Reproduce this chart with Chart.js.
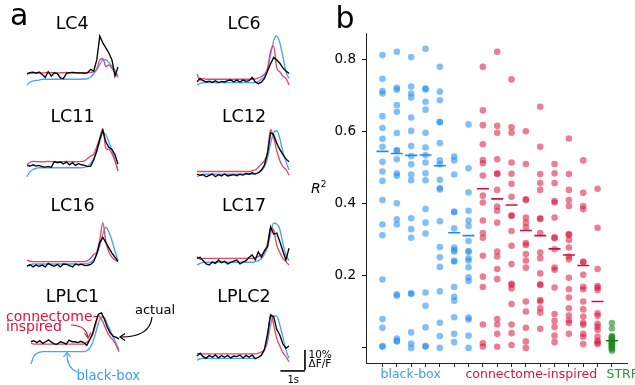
<!DOCTYPE html>
<html><head><meta charset="utf-8">
<script src="https://cdn.jsdelivr.net/npm/chart.js@4.4.1/dist/chart.umd.min.js"></script>
<style>
body{margin:0;width:635px;height:385px;background:#fff;position:relative;overflow:hidden;font-family:"DejaVu Sans",sans-serif;color:#000}
.t{position:absolute;line-height:1;white-space:nowrap}
.ttl{position:absolute;line-height:1;white-space:nowrap;width:100px;text-align:center;font-size:17.5px}
canvas{position:absolute}
svg{position:absolute;left:0;top:0}
</style></head><body>
<script>
// ---------- Panel a: mean responses (ΔF/F, %) sampled every 0.125 s ----------
const timeS=[0,0.125,0.25,0.375,0.5,0.625,0.75,0.875,1,1.125,1.25,1.375,1.5,1.625,1.75,1.875,2,2.125,2.25,2.375,2.5,2.625,2.75,2.875,3,3.125,3.25,3.375,3.5,3.625,3.75];

const lc4Actual=[8.1,8.7,8.9,8.4,9.0,7.9,6.5,9.2,7.1,8.7,8.3,6.2,5.9,8.4,8.7,8.9,8.7,8.6,8.6,8.4,8.7,10.3,9.5,14.8,26.2,22.9,20.5,18.1,14.8,7.1,11.4];
const lc4Connectome=[8.2,8.7,8.8,8.7,8.7,8.6,8.7,8.8,8.7,8.7,8.6,8.7,8.7,8.8,8.7,8.7,8.6,8.7,8.7,8.7,8.8,8.9,9.2,10.5,14.8,15.5,11.6,12.4,10.8,8.8,6.5];
const lc4BlackBox=[2.9,4.3,4.8,5.0,5.2,5.6,5.6,5.6,5.6,5.6,5.6,5.6,5.6,5.6,5.6,5.6,5.6,5.6,5.6,5.7,5.9,6.7,8.2,10.2,12.6,14.8,14.9,13.5,11.8,9.8,7.4];

const lc6Actual=[4.4,6.0,4.9,4.3,4.7,4.1,4.9,4.0,4.6,4.3,4.9,5.2,4.4,5.2,4.3,5.2,4.6,4.9,6.5,4.3,3.5,4.2,6.0,9.5,13.0,16.0,14.8,13.2,11.0,9.5,8.4];
const lc6Connectome=[8.1,5.2,5.9,5.6,5.6,5.6,5.6,5.6,5.6,5.6,5.6,5.6,5.6,5.6,5.6,5.6,5.6,5.6,5.6,5.7,6.2,6.8,8.1,10.8,19.0,21.5,11.0,9.2,7.1,6.0,2.9];
const lc6BlackBox=[2.9,3.6,4.0,4.0,4.0,4.0,4.0,4.0,4.0,4.0,4.0,4.0,4.0,4.0,4.0,4.0,4.0,4.0,4.0,4.1,4.6,5.6,6.8,10.0,17.2,24.0,26.2,23.0,16.5,9.2,6.0];

const lc11Actual=[7.8,7.6,8.2,7.6,7.9,7.3,7.1,7.4,7.0,9.7,9.2,9.5,8.6,9.5,8.2,9.2,7.9,8.7,8.2,7.9,7.3,7.6,10.5,14.9,20.5,24.5,19.0,16.5,15.5,13.0,8.5];
const lc11Connectome=[8.1,9.4,9.8,9.7,9.7,9.6,9.7,9.8,9.7,9.7,9.6,9.7,9.7,9.8,9.7,9.7,9.6,9.7,9.8,10.1,11.2,12.3,13.3,16.8,21.0,25.5,16.0,15.5,13.5,10.0,5.2];
const lc11BlackBox=[2.5,4.9,6.0,6.5,6.8,6.8,6.8,6.8,6.8,6.8,6.8,6.8,6.8,6.8,6.8,6.8,6.8,6.8,6.8,7.0,7.6,8.9,11.3,14.4,19.2,23.5,22.5,19.0,15.0,10.5,5.5];

const lc12Actual=[3.8,3.2,3.5,2.5,3.2,3.8,2.5,3.5,2.9,3.8,2.9,3.2,3.5,3.0,3.7,3.3,4.1,3.7,4.4,3.8,4.4,5.7,8.1,13.7,23.5,22.5,18.5,15.5,13.0,11.0,9.7];
const lc12Connectome=[5.0,5.0,5.0,5.0,5.0,5.0,5.0,5.0,5.0,5.0,5.0,5.0,5.0,5.0,5.0,5.0,5.0,5.0,5.4,5.7,7.0,8.6,10.2,14.4,25.0,21.0,15.0,10.2,7.3,6.0,3.3];
const lc12BlackBox=[2.5,3.2,3.7,3.7,3.7,3.7,3.7,3.7,3.7,3.7,3.7,3.7,3.7,3.7,3.7,3.7,3.7,3.7,3.7,4.0,4.4,5.4,7.3,11.3,18.4,23.5,24.4,20.8,14.4,9.7,5.7];

const lc16Actual=[3.3,3.9,2.9,3.8,3.2,3.8,2.9,4.6,3.8,3.2,4.1,2.9,4.3,4.1,3.5,2.9,4.3,3.8,4.2,3.5,3.7,4.1,5.5,9.0,14.5,17.0,14.5,12.0,9.5,7.5,5.5];
const lc16Connectome=[6.2,5.6,5.4,5.4,5.4,5.4,5.4,5.4,5.4,5.4,5.4,5.4,5.4,5.4,5.4,5.4,5.4,5.4,5.4,5.4,5.9,7.0,8.8,10.0,16.0,24.0,15.0,10.0,7.5,6.2,5.4];
const lc16BlackBox=[3.3,4.0,4.3,4.3,4.3,4.3,4.3,4.3,4.3,4.3,4.3,4.3,4.3,4.3,4.3,4.3,4.3,4.3,4.3,4.4,4.6,5.2,6.2,9.0,13.0,18.5,21.8,19.5,15.5,10.5,6.0];

const lc17Actual=[7.0,7.5,5.9,4.3,3.8,5.2,4.6,6.2,4.9,5.6,4.3,5.1,5.6,6.2,4.3,5.2,5.9,7.5,8.6,6.2,10.1,7.5,10.7,12.5,22.0,18.5,19.0,15.0,10.5,6.2,11.8];
const lc17Connectome=[7.9,6.5,7.0,7.0,7.0,7.0,7.0,7.0,7.0,7.0,7.0,7.0,7.0,7.0,7.0,7.0,7.0,7.0,7.0,7.3,7.9,8.7,10.2,14.1,21.7,20.5,13.3,9.8,7.0,5.4,3.8];
const lc17BlackBox=[3.8,4.6,5.1,5.1,5.1,5.1,5.1,5.1,5.1,5.1,5.1,5.1,5.1,5.1,5.1,5.1,5.1,5.1,5.1,5.4,5.9,6.8,9.0,12.5,18.6,23.7,23.3,20.8,14.1,8.7,5.9];

const lplc1Actual=[10.6,11.1,10.2,11.1,9.8,10.6,11.5,10.4,9.5,9.5,10.6,10.2,9.5,11.4,10.6,10.6,10.2,10.8,10.2,8.9,11.4,14.5,19.7,23.7,24.3,21.4,17.6,14.8,13.3,12.7,12.0];
const lplc1Connectome=[9.8,9.5,9.5,9.5,9.5,9.5,9.5,9.5,9.5,9.5,9.5,9.5,9.5,9.5,9.5,9.5,9.5,9.5,9.5,10.4,11.7,14.1,18.4,23.0,21.4,18.4,15.2,12.9,11.4,9.0,5.9];
const lplc1BlackBox=[0.0,3.8,5.1,5.6,5.9,5.9,5.9,5.9,5.9,5.9,5.9,5.9,5.9,5.9,5.9,5.9,5.9,5.9,5.9,6.3,7.5,10.2,14.6,19.4,22.4,22.1,19.0,16.0,12.9,9.8,6.9];

const lplc2Actual=[3.8,5.1,3.5,2.7,4.1,3.2,4.3,2.9,4.0,3.2,4.1,2.9,3.8,3.5,4.3,2.9,4.1,3.2,4.3,2.5,3.2,4.1,7.0,14.3,23.3,22.5,16.5,13.8,9.5,7.5,8.6];
const lplc2Connectome=[5.1,4.8,4.8,4.8,4.8,4.8,4.8,4.8,4.8,4.8,4.8,4.8,4.8,4.8,4.8,4.8,4.8,4.8,4.8,4.8,5.1,5.7,7.0,12.2,23.8,18.6,12.2,8.6,5.4,3.5,1.1];
const lplc2BlackBox=[1.9,2.5,2.7,2.7,2.7,2.7,2.7,2.7,2.7,2.7,2.7,2.7,2.7,2.7,2.7,2.7,2.7,2.7,2.7,2.7,3.2,4.3,6.7,10.6,18.6,22.9,22.9,18.6,13.0,6.7,2.7];

const scaleBarPercent=10, scaleBarSeconds=1;

// ---------- Panel b: R^2 per model / cell type ----------
const blackBoxR2=[
 [0.814,0.748,0.714,0.707,0.644,0.611,0.581,0.559,0.517,0.49,0.464,0.411,0.343,0.313,0.19,0.08,0.056,0.005,0.003],
 [0.823,0.723,0.717,0.675,0.656,0.597,0.55,0.547,0.524,0.485,0.478,0.402,0.357,0.343,0.149,0.145,0.026,0.019,0.018],
 [0.808,0.726,0.707,0.696,0.64,0.603,0.561,0.533,0.51,0.482,0.466,0.36,0.33,0.306,0.152,0.15,0.043,0.012,0.0],
 [0.831,0.721,0.718,0.684,0.662,0.598,0.557,0.535,0.515,0.485,0.466,0.386,0.348,0.318,0.154,0.117,0.057,0.005,0.004],
 [0.781,0.712,0.688,0.628,0.627,0.569,0.521,0.51,0.467,0.444,0.44,0.352,0.28,0.252,0.225,0.157,0.07,0.033,0.0],
 [0.532,0.521,0.482,0.379,0.377,0.332,0.279,0.272,0.268,0.242,0.24,0.169,0.142,0.131,0.085,0.039,0.016],
 [0.621,0.499,0.432,0.381,0.354,0.339,0.297,0.269,0.267,0.249,0.243,0.224,0.196,0.186,0.084,0.079,0.034,0.0]
];
const connectomeR2=[
 [0.781,0.66,0.619,0.566,0.522,0.513,0.479,0.423,0.404,0.354,0.319,0.306,0.256,0.198,0.169,0.065,0.013,0.004],
 [0.823,0.617,0.598,0.524,0.485,0.483,0.439,0.393,0.381,0.348,0.268,0.254,0.219,0.191,0.08,0.065,0.039,0.003],
 [0.746,0.613,0.598,0.515,0.484,0.456,0.42,0.368,0.367,0.325,0.284,0.233,0.178,0.175,0.165,0.122,0.065,0.041,0.008],
 [0.602,0.511,0.413,0.411,0.362,0.348,0.335,0.291,0.286,0.261,0.243,0.223,0.129,0.101,0.056,0.018,0.0],
 [0.67,0.559,0.483,0.458,0.439,0.36,0.358,0.319,0.265,0.249,0.207,0.177,0.175,0.133,0.129,0.11,0.098,0.053],
 [0.511,0.485,0.458,0.408,0.404,0.362,0.307,0.305,0.274,0.223,0.217,0.168,0.094,0.075,0.058,0.034,0.016],
 [0.582,0.483,0.439,0.411,0.394,0.316,0.314,0.3,0.279,0.254,0.246,0.195,0.163,0.14,0.11,0.09,0.076,0.069,0.039],
 [0.521,0.431,0.394,0.385,0.24,0.237,0.203,0.17,0.163,0.129,0.107,0.087,0.07,0.064,0.039,0.031,0.011],
 [0.442,0.334,0.219,0.172,0.167,0.161,0.096,0.089,0.067,0.059,0.05,0.031,0.02,0.015,0.011]
];
const strfR2=[0.069,0.054,0.033,0.03,0.028,0.025,0.022,0.02,0.018,0.015,0.012,0.01,0.008,0.005,0.002,0.0,-0.003,-0.008];
const blackBoxSummary=[0.546,0.54,0.535,0.536,0.506,0.32,0.312];
const connectomeSummary=[0.442,0.414,0.397,0.326,0.312,0.275,0.258,0.229,0.129];
const strfSummary=[0.02];
const yTickValues=[0,0.2,0.4,0.6,0.8];
const groupLabels=['black-box','connectome-inspired','STRF'];

// ---------- page helpers ----------
const BLUE='#3d9cf5', RED='#dc143c', GREEN='#2a962a';
function text(str, left, top, size, extra){
  const d=document.createElement('div'); d.className='t'; d.textContent=str;
  d.style.left=left+'px'; d.style.top=top+'px'; d.style.fontSize=size+'px';
  if(extra) Object.assign(d.style, extra);
  document.body.appendChild(d); return d;
}
function title(str, cx, top){
  const d=document.createElement('div'); d.className='ttl'; d.textContent=str;
  d.style.left=(cx-50)+'px'; d.style.top=top+'px'; document.body.appendChild(d);
}
function makeCanvas(left, top, w, h){
  const c=document.createElement('canvas'); c.width=w; c.height=h;
  c.style.left=left+'px'; c.style.top=top+'px'; c.style.width=w+'px'; c.style.height=h+'px';
  document.body.appendChild(c); return c.getContext('2d');
}
Chart.defaults.font.family='"DejaVu Sans", sans-serif';
Chart.defaults.animation=false;

// ---------- panel a subplots ----------
const panels=[
 {name:'LC4',  a:lc4Actual,  c:lc4Connectome,  b:lc4BlackBox,  left:27,  top:31,  w:91, cx:72.2, tt:14.7},
 {name:'LC6',  a:lc6Actual,  c:lc6Connectome,  b:lc6BlackBox,  left:197, top:31,  w:92, cx:244,  tt:14.7},
 {name:'LC11', a:lc11Actual, c:lc11Connectome, b:lc11BlackBox, left:27,  top:122, w:91, cx:72.5, tt:108},
 {name:'LC12', a:lc12Actual, c:lc12Connectome, b:lc12BlackBox, left:197, top:122, w:92, cx:244,  tt:108},
 {name:'LC16', a:lc16Actual, c:lc16Connectome, b:lc16BlackBox, left:27,  top:213, w:91, cx:72.5, tt:197},
 {name:'LC17', a:lc17Actual, c:lc17Connectome, b:lc17BlackBox, left:197, top:213, w:92, cx:244,  tt:197},
 {name:'LPLC1',a:lplc1Actual,c:lplc1Connectome,b:lplc1BlackBox,left:31,  top:304, w:88, cx:72.5, tt:288},
 {name:'LPLC2',a:lplc2Actual,c:lplc2Connectome,b:lplc2BlackBox,left:197, top:304, w:92, cx:244,  tt:288, bar:true}
];
const AREA_H=60, PX_PER_PCT=2.1;
const scaleBarPlugin={id:'scalebar',afterDraw(chart){
  const o=chart.options.plugins.scalebar; if(!o||!o.on) return;
  const {x,y}=chart.scales, ctx=chart.ctx;
  const xr=x.getPixelForValue(o.t), xl=x.getPixelForValue(o.t-scaleBarSeconds);
  const yb=y.getPixelForValue(o.v), yt=y.getPixelForValue(o.v+scaleBarPercent);
  ctx.save(); ctx.strokeStyle='#000'; ctx.lineWidth=1.6; ctx.lineCap='butt';
  ctx.beginPath(); ctx.moveTo(xr,yt); ctx.lineTo(xr,yb-1); ctx.stroke();
  ctx.beginPath(); ctx.moveTo(xl,yb); ctx.lineTo(xr,yb); ctx.stroke();
  ctx.restore();
}};
const toXY=arr=>arr.map((v,i)=>({x:timeS[i],y:v}));
panels.forEach(p=>{
  const pad={left:4,top:4,right:p.bar?24:4,bottom:p.bar?12:4};
  const W=p.w+pad.left+pad.right, H=AREA_H+pad.top+pad.bottom;
  const ctx=makeCanvas(p.left-pad.left, p.top-pad.top, W, H);
  new Chart(ctx,{type:'line',
    data:{datasets:[
      {data:toXY(p.a),borderColor:'#000',borderWidth:1.35,pointRadius:0,tension:0,clip:false},
      {data:toXY(p.c),borderColor:'#e04a68',borderWidth:1.35,pointRadius:0,cubicInterpolationMode:'monotone',clip:false},
      {data:toXY(p.b),borderColor:'#4aa3ff',borderWidth:1.35,pointRadius:0,cubicInterpolationMode:'monotone',clip:false}
    ]},
    options:{responsive:false,events:[],layout:{padding:pad},
      plugins:{legend:{display:false},tooltip:{enabled:false},scalebar:{on:!!p.bar,t:4.4,v:-3.3}},
      scales:{x:{type:'linear',display:false,min:0,max:3.75},
              y:{type:'linear',display:false,min:0,max:AREA_H/PX_PER_PCT}}},
    plugins:[scaleBarPlugin]});
  title(p.name,p.cx,p.tt);
});

// ---------- panel b ----------
(function(){
  const ctx=makeCanvas(300,0,335,385);
  const pts=(groups,start)=>groups.flatMap((col,k)=>col.map(v=>({x:start+k,y:v})));
  const sums=(vals,start)=>vals.map((v,k)=>({x:start+k,y:v}));
  const nB=blackBoxR2.length, nC=connectomeR2.length;
  const cols=[]; for(let k=1;k<=nB+nC+1;k++) cols.push(k);
  const base={type:'scatter',pointRadius:3.3,pointHoverRadius:3.3,borderWidth:0,pointBorderWidth:0};
  const med={type:'scatter',pointStyle:'line',pointRadius:6,pointHoverRadius:6,pointBorderWidth:1.6,borderWidth:1.6};
  new Chart(ctx,{type:'scatter',
    data:{datasets:[
      Object.assign({},med,{data:sums(blackBoxSummary,1),borderColor:'#1e8cf0',pointBorderColor:'#1e8cf0'}),
      Object.assign({},med,{data:sums(connectomeSummary,1+nB),borderColor:'#d0103a',pointBorderColor:'#d0103a'}),
      Object.assign({},med,{data:sums(strfSummary,1+nB+nC),borderColor:'#137a13',pointBorderColor:'#137a13'}),
      Object.assign({},base,{data:pts(blackBoxR2,1),backgroundColor:'rgba(30,140,245,0.56)'}),
      Object.assign({},base,{data:pts(connectomeR2,1+nB),backgroundColor:'rgba(220,20,60,0.55)'}),
      Object.assign({},base,{data:strfR2.map(v=>({x:1+nB+nC,y:v})),backgroundColor:'rgba(34,139,34,0.6)'})
    ]},
    options:{responsive:false,events:[],layout:{padding:{top:33,left:0,right:0,bottom:0}},
      plugins:{legend:{display:false},tooltip:{enabled:false}},
      scales:{
        x:{type:'linear',min:-0.15,max:18.08,
           afterBuildTicks:s=>{s.ticks=cols.map(v=>({value:v}));},
           afterFit:s=>{s.height=22;},
           ticks:{display:false},
           grid:{drawOnChartArea:false,drawTicks:true,tickLength:4,color:'#222',lineWidth:1},
           border:{display:true,color:'#222',width:1}},
        y:{type:'linear',min:-0.042,max:0.875,
           afterBuildTicks:s=>{s.ticks=yTickValues.map(v=>({value:v}));},
           afterFit:s=>{s.width=66;},
           ticks:{padding:6,color:'#000',font:{size:13.5},callback:v=>v===0?'':v.toFixed(1)},
           grid:{drawOnChartArea:false,drawTicks:true,tickLength:4,color:'#222',lineWidth:1},
           border:{display:true,color:'#222',width:1}}
      }}});
})();

// ---------- texts ----------
text('a',10,-0.4,30);
text('b',335.6,2.6,30);
text('connectome-',6,309.4,14,{color:RED});
text('inspired',6,318.6,14,{color:RED});
text('actual',135,302.5,13);
text('black-box',76.5,368.8,13.2,{color:BLUE});
text('10%',308.5,349.3,10.5);
text('ΔF/F',308.5,358.3,10.5);
text('1s',287.5,374.5,10);
text(groupLabels[0],380.5,368.4,12.5,{color:BLUE});
text(groupLabels[1],465.5,368.4,12.5,{color:RED});
text(groupLabels[2],606.5,368.4,12.5,{color:GREEN});
const r=text('',311,180,14); r.innerHTML='<i>R</i><sup style="font-size:9px;vertical-align:6px">2</sup>';

// ---------- annotation arrows ----------
const NS='http://www.w3.org/2000/svg';
const svg=document.createElementNS(NS,'svg'); svg.setAttribute('width','635'); svg.setAttribute('height','385');
function path(d,col){const p=document.createElementNS(NS,'path');p.setAttribute('d',d);p.setAttribute('fill','none');p.setAttribute('stroke',col);p.setAttribute('stroke-width','1.2');svg.appendChild(p);}
path('M71 325 Q86 325.5 88 337',RED);  path('M84.5 333 L88 338 L91 332.5',RED);
path('M152 317 Q150 337 121 337','#000'); path('M125 333.5 L120 337 L125 340.5','#000');
path('M77 372 Q67 368 67 354',BLUE); path('M63.5 357 L67 352.5 L70.5 357',BLUE);
document.body.appendChild(svg);
</script>
</body></html>
